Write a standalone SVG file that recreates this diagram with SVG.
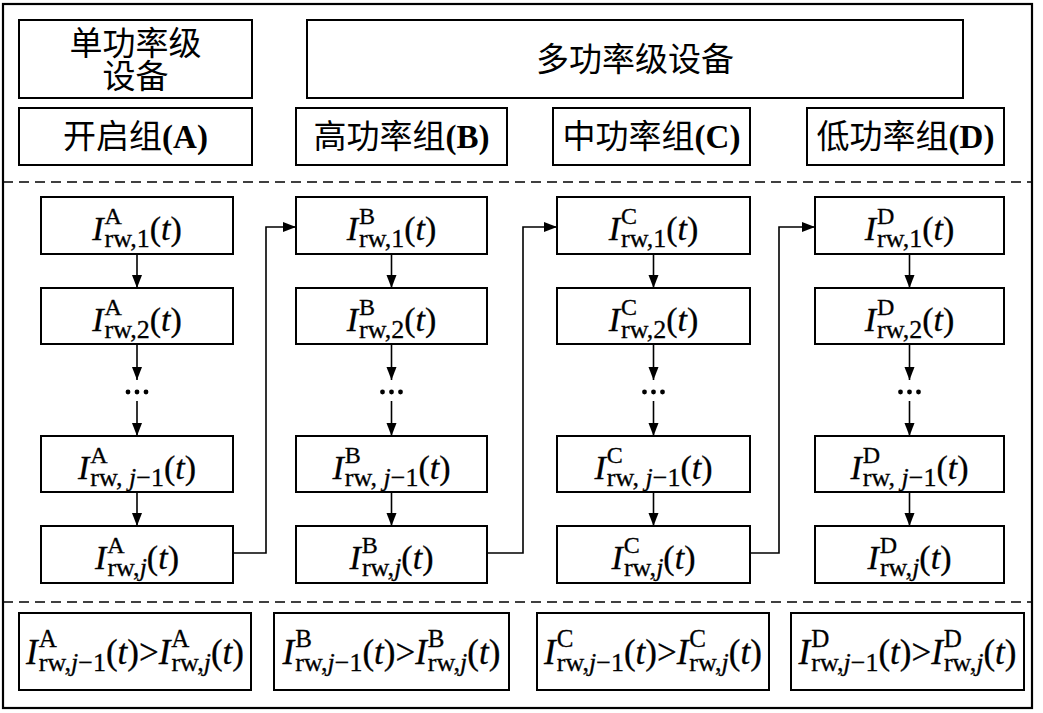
<svg xmlns="http://www.w3.org/2000/svg" width="1043" height="713" viewBox="0 0 1043 713">
<style>
.box{fill:#fff;stroke:#000;stroke-width:2}
.frame{fill:none;stroke:#000;stroke-width:2.2}
.dash{stroke:#000;stroke-width:1.6;stroke-dasharray:10 6;fill:none}
.cn{font-family:"Liberation Serif","Noto Sans CJK SC",serif;font-size:33px;fill:#000;text-anchor:middle}
.cn .lat{font-weight:bold}
.m{font-family:"Liberation Serif","Noto Sans CJK SC",serif;font-size:34px;fill:#000;text-anchor:middle;stroke:#000;stroke-width:0.3}
.m .it{font-style:italic}
.m .s{font-size:24px}
.m .b{font-size:26px}
.q{font-size:35px}
.q .s{font-size:25px}
.q .b{font-size:26px}
.ln{fill:none;stroke:#000;stroke-width:1.6}
.dot{fill:#000}
</style>
<defs>
<marker id="ah" markerUnits="userSpaceOnUse" markerWidth="14" markerHeight="11" refX="13" refY="5" orient="auto" viewBox="0 0 14 11">
<path d="M0,0 L13,5 L0,10 Z" fill="#000"/>
</marker>
</defs>
<rect class="frame" x="3" y="4" width="1029" height="704"/>
<line class="dash" x1="3" y1="182" x2="1032" y2="182"/>
<line class="dash" x1="3" y1="602" x2="1032" y2="602"/>

<g id="single-level"><rect class="box" x="19" y="20" width="233" height="78"/><text class="cn" x="135.5" y="55">单功率级</text><text class="cn" x="135.5" y="88">设备</text></g>
<g id="multi-level"><rect class="box" x="307" y="20" width="656" height="78"/><text class="cn" x="635" y="71">多功率级设备</text></g>
<g id="group-A"><rect class="box" x="19" y="108" width="233" height="57"/><text class="cn" x="135.5" y="148">开启组<tspan class="lat">(A)</tspan></text></g>
<g id="group-B"><rect class="box" x="296" y="108" width="211" height="57"/><text class="cn" x="401.5" y="148">高功率组<tspan class="lat">(B)</tspan></text></g>
<g id="group-C"><rect class="box" x="553" y="108" width="197" height="57"/><text class="cn" x="651.5" y="148">中功率组<tspan class="lat">(C)</tspan></text></g>
<g id="group-D"><rect class="box" x="807" y="108" width="197" height="57"/><text class="cn" x="905.5" y="148">低功率组<tspan class="lat">(D)</tspan></text></g>

<!-- Column A -->
<g id="A1"><rect class="box" x="41" y="197" width="192" height="57"/><text class="m" x="137" y="240"><tspan class="it">I</tspan><tspan class="s" dx="1" dy="-16">A</tspan><tspan class="b" dx="-17.3" dy="23">rw,1</tspan><tspan dy="-7">(</tspan><tspan class="it">t</tspan>)</text></g>
<g id="A2"><rect class="box" x="41" y="288" width="192" height="56"/><text class="m" x="137" y="331"><tspan class="it">I</tspan><tspan class="s" dx="1" dy="-16">A</tspan><tspan class="b" dx="-17.3" dy="23">rw,2</tspan><tspan dy="-7">(</tspan><tspan class="it">t</tspan>)</text></g>
<g id="A-dots"><circle class="dot" cx="128" cy="392" r="2.4"/><circle class="dot" cx="137" cy="392" r="2.4"/><circle class="dot" cx="146" cy="392" r="2.4"/></g>
<g id="A3"><rect class="box" x="41" y="436" width="192" height="56"/><text class="m" x="137" y="479"><tspan class="it">I</tspan><tspan class="s" dx="1" dy="-16">A</tspan><tspan class="b" dx="-17.3" dy="23">rw, <tspan class="it">j</tspan>−1</tspan><tspan dy="-7">(</tspan><tspan class="it">t</tspan>)</text></g>
<g id="A4"><rect class="box" x="41" y="526" width="192" height="57"/><text class="m" x="137" y="569"><tspan class="it">I</tspan><tspan class="s" dx="1" dy="-16">A</tspan><tspan class="b" dx="-17.3" dy="23">rw,<tspan class="it">j</tspan></tspan><tspan dy="-7">(</tspan><tspan class="it">t</tspan>)</text></g>

<!-- Column B -->
<g id="B1"><rect class="box" x="296" y="197" width="191" height="57"/><text class="m" x="391.5" y="240"><tspan class="it">I</tspan><tspan class="s" dx="1" dy="-16">B</tspan><tspan class="b" dx="-16" dy="23">rw,1</tspan><tspan dy="-7">(</tspan><tspan class="it">t</tspan>)</text></g>
<g id="B2"><rect class="box" x="296" y="288" width="191" height="56"/><text class="m" x="391.5" y="331"><tspan class="it">I</tspan><tspan class="s" dx="1" dy="-16">B</tspan><tspan class="b" dx="-16" dy="23">rw,2</tspan><tspan dy="-7">(</tspan><tspan class="it">t</tspan>)</text></g>
<g id="B-dots"><circle class="dot" cx="382.5" cy="392" r="2.4"/><circle class="dot" cx="391.5" cy="392" r="2.4"/><circle class="dot" cx="400.5" cy="392" r="2.4"/></g>
<g id="B3"><rect class="box" x="296" y="436" width="191" height="56"/><text class="m" x="391.5" y="479"><tspan class="it">I</tspan><tspan class="s" dx="1" dy="-16">B</tspan><tspan class="b" dx="-16" dy="23">rw, <tspan class="it">j</tspan>−1</tspan><tspan dy="-7">(</tspan><tspan class="it">t</tspan>)</text></g>
<g id="B4"><rect class="box" x="296" y="526" width="191" height="57"/><text class="m" x="391.5" y="569"><tspan class="it">I</tspan><tspan class="s" dx="1" dy="-16">B</tspan><tspan class="b" dx="-16" dy="23">rw,<tspan class="it">j</tspan></tspan><tspan dy="-7">(</tspan><tspan class="it">t</tspan>)</text></g>

<!-- Column C -->
<g id="C1"><rect class="box" x="557" y="197" width="193" height="57"/><text class="m" x="653.5" y="240"><tspan class="it">I</tspan><tspan class="s" dx="1" dy="-16">C</tspan><tspan class="b" dx="-16" dy="23">rw,1</tspan><tspan dy="-7">(</tspan><tspan class="it">t</tspan>)</text></g>
<g id="C2"><rect class="box" x="557" y="288" width="193" height="56"/><text class="m" x="653.5" y="331"><tspan class="it">I</tspan><tspan class="s" dx="1" dy="-16">C</tspan><tspan class="b" dx="-16" dy="23">rw,2</tspan><tspan dy="-7">(</tspan><tspan class="it">t</tspan>)</text></g>
<g id="C-dots"><circle class="dot" cx="644.5" cy="392" r="2.4"/><circle class="dot" cx="653.5" cy="392" r="2.4"/><circle class="dot" cx="662.5" cy="392" r="2.4"/></g>
<g id="C3"><rect class="box" x="557" y="436" width="193" height="56"/><text class="m" x="653.5" y="479"><tspan class="it">I</tspan><tspan class="s" dx="1" dy="-16">C</tspan><tspan class="b" dx="-16" dy="23">rw, <tspan class="it">j</tspan>−1</tspan><tspan dy="-7">(</tspan><tspan class="it">t</tspan>)</text></g>
<g id="C4"><rect class="box" x="557" y="526" width="193" height="57"/><text class="m" x="653.5" y="569"><tspan class="it">I</tspan><tspan class="s" dx="1" dy="-16">C</tspan><tspan class="b" dx="-16" dy="23">rw,<tspan class="it">j</tspan></tspan><tspan dy="-7">(</tspan><tspan class="it">t</tspan>)</text></g>

<!-- Column D -->
<g id="D1"><rect class="box" x="815" y="197" width="189" height="57"/><text class="m" x="909.5" y="240"><tspan class="it">I</tspan><tspan class="s" dx="1" dy="-16">D</tspan><tspan class="b" dx="-17.3" dy="23">rw,1</tspan><tspan dy="-7">(</tspan><tspan class="it">t</tspan>)</text></g>
<g id="D2"><rect class="box" x="815" y="288" width="189" height="56"/><text class="m" x="909.5" y="331"><tspan class="it">I</tspan><tspan class="s" dx="1" dy="-16">D</tspan><tspan class="b" dx="-17.3" dy="23">rw,2</tspan><tspan dy="-7">(</tspan><tspan class="it">t</tspan>)</text></g>
<g id="D-dots"><circle class="dot" cx="900.5" cy="392" r="2.4"/><circle class="dot" cx="909.5" cy="392" r="2.4"/><circle class="dot" cx="918.5" cy="392" r="2.4"/></g>
<g id="D3"><rect class="box" x="815" y="436" width="189" height="56"/><text class="m" x="909.5" y="479"><tspan class="it">I</tspan><tspan class="s" dx="1" dy="-16">D</tspan><tspan class="b" dx="-17.3" dy="23">rw, <tspan class="it">j</tspan>−1</tspan><tspan dy="-7">(</tspan><tspan class="it">t</tspan>)</text></g>
<g id="D4"><rect class="box" x="815" y="526" width="189" height="57"/><text class="m" x="909.5" y="569"><tspan class="it">I</tspan><tspan class="s" dx="1" dy="-16">D</tspan><tspan class="b" dx="-17.3" dy="23">rw,<tspan class="it">j</tspan></tspan><tspan dy="-7">(</tspan><tspan class="it">t</tspan>)</text></g>

<!-- Bottom conditions -->
<g id="cond-A"><rect class="box" x="19" y="613" width="232" height="77"/><text class="m q" x="135" y="664"><tspan class="it">I</tspan><tspan class="s" dx="1" dy="-17">A</tspan><tspan class="b" dx="-18" dy="24">rw,<tspan class="it">j</tspan>−1</tspan><tspan dy="-7">(</tspan><tspan class="it">t</tspan>)&gt;<tspan class="it">I</tspan><tspan class="s" dx="1" dy="-17">A</tspan><tspan class="b" dx="-18" dy="24">rw,<tspan class="it">j</tspan></tspan><tspan dy="-7">(</tspan><tspan class="it">t</tspan>)</text></g>
<g id="cond-B"><rect class="box" x="274" y="613" width="235" height="77"/><text class="m q" x="391.5" y="664"><tspan class="it">I</tspan><tspan class="s" dx="1" dy="-17">B</tspan><tspan class="b" dx="-16.7" dy="24">rw,<tspan class="it">j</tspan>−1</tspan><tspan dy="-7">(</tspan><tspan class="it">t</tspan>)&gt;<tspan class="it">I</tspan><tspan class="s" dx="1" dy="-17">B</tspan><tspan class="b" dx="-16.7" dy="24">rw,<tspan class="it">j</tspan></tspan><tspan dy="-7">(</tspan><tspan class="it">t</tspan>)</text></g>
<g id="cond-C"><rect class="box" x="537" y="613" width="232" height="77"/><text class="m q" x="653" y="664"><tspan class="it">I</tspan><tspan class="s" dx="1" dy="-17">C</tspan><tspan class="b" dx="-16.7" dy="24">rw,<tspan class="it">j</tspan>−1</tspan><tspan dy="-7">(</tspan><tspan class="it">t</tspan>)&gt;<tspan class="it">I</tspan><tspan class="s" dx="1" dy="-17">C</tspan><tspan class="b" dx="-16.7" dy="24">rw,<tspan class="it">j</tspan></tspan><tspan dy="-7">(</tspan><tspan class="it">t</tspan>)</text></g>
<g id="cond-D"><rect class="box" x="791" y="613" width="233" height="77"/><text class="m q" x="907.5" y="664"><tspan class="it">I</tspan><tspan class="s" dx="1" dy="-17">D</tspan><tspan class="b" dx="-18" dy="24">rw,<tspan class="it">j</tspan>−1</tspan><tspan dy="-7">(</tspan><tspan class="it">t</tspan>)&gt;<tspan class="it">I</tspan><tspan class="s" dx="1" dy="-17">D</tspan><tspan class="b" dx="-18" dy="24">rw,<tspan class="it">j</tspan></tspan><tspan dy="-7">(</tspan><tspan class="it">t</tspan>)</text></g>

<g id="connectors">
<line class="ln" x1="137" y1="254" x2="137" y2="288" marker-end="url(#ah)"/>
<line class="ln" x1="137" y1="344" x2="137" y2="380" marker-end="url(#ah)"/>
<line class="ln" x1="137" y1="401" x2="137" y2="436" marker-end="url(#ah)"/>
<line class="ln" x1="137" y1="492" x2="137" y2="526" marker-end="url(#ah)"/>
<line class="ln" x1="391.5" y1="254" x2="391.5" y2="288" marker-end="url(#ah)"/>
<line class="ln" x1="391.5" y1="344" x2="391.5" y2="380" marker-end="url(#ah)"/>
<line class="ln" x1="391.5" y1="401" x2="391.5" y2="436" marker-end="url(#ah)"/>
<line class="ln" x1="391.5" y1="492" x2="391.5" y2="526" marker-end="url(#ah)"/>
<line class="ln" x1="653.5" y1="254" x2="653.5" y2="288" marker-end="url(#ah)"/>
<line class="ln" x1="653.5" y1="344" x2="653.5" y2="380" marker-end="url(#ah)"/>
<line class="ln" x1="653.5" y1="401" x2="653.5" y2="436" marker-end="url(#ah)"/>
<line class="ln" x1="653.5" y1="492" x2="653.5" y2="526" marker-end="url(#ah)"/>
<line class="ln" x1="909.5" y1="254" x2="909.5" y2="288" marker-end="url(#ah)"/>
<line class="ln" x1="909.5" y1="344" x2="909.5" y2="380" marker-end="url(#ah)"/>
<line class="ln" x1="909.5" y1="401" x2="909.5" y2="436" marker-end="url(#ah)"/>
<line class="ln" x1="909.5" y1="492" x2="909.5" y2="526" marker-end="url(#ah)"/>
<polyline class="ln" points="233,553 266,553 266,227 296,227" marker-end="url(#ah)"/>
<polyline class="ln" points="487,553 523,553 523,227 557,227" marker-end="url(#ah)"/>
<polyline class="ln" points="750,553 779,553 779,227 815,227" marker-end="url(#ah)"/>
</g>
</svg>
